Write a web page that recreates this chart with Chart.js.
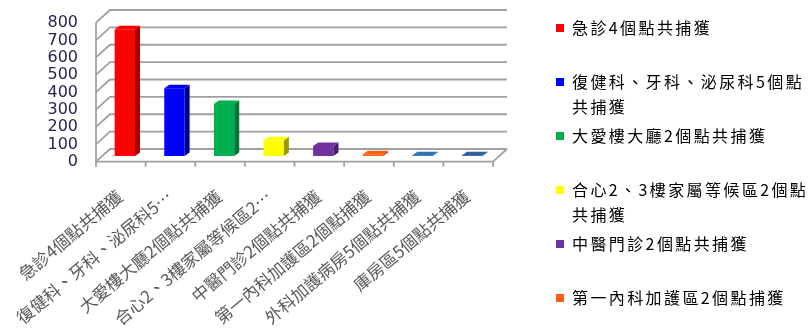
<!DOCTYPE html>
<html>
<head>
<meta charset="utf-8">
<script src="https://cdn.jsdelivr.net/npm/chart.js@4"></script>
<style>
  html, body { margin: 0; padding: 0; background: #fff; }
  #wrap { position: relative; width: 811px; height: 336px; }
  #legend { position: absolute; left: 0; top: 0; }
  .item { position: absolute; left: 556px; width: 250px; font-family: "Noto Sans CJK TC", sans-serif;
    font-size: 16px; letter-spacing: 2.4px; line-height: 25px; color: #000; }
  .item .box { position: absolute; left: 0; top: 9px; width: 8px; height: 8px; }
  .item .txt { margin-left: 16px; width: 238px; }
</style>
</head>
<body>
<div id="wrap">
  <canvas id="chart" width="811" height="336"></canvas>
  <div id="legend"></div>
</div>
<script>
const categories = [
	'急診4個點共捕獲',
	'復健科、牙科、泌尿科5個點共捕獲',
	'大愛樓大廳2個點共捕獲',
	'合心2、3樓家屬等候區2個點共捕獲',
	'中醫門診2個點共捕獲',
	'第一內科加護區2個點捕獲',
	'外科加護病房5個點共捕獲',
	'庫房區5個點共捕獲'
];
const tickLabels = [
	'急診4個點共捕獲',
	'復健科、牙科、泌尿科5…',
	'大愛樓大廳2個點共捕獲',
	'合心2、3樓家屬等候區2…',
	'中醫門診2個點共捕獲',
	'第一內科加護區2個點捕獲',
	'外科加護病房5個點共捕獲',
	'庫房區5個點共捕獲'
];
const values = [730, 390, 300, 90, 58, 10, 5, 5];
const colors = ['#ff0000', '#0000ff', '#00b050', '#ffff00', '#7030a0', '#ff6010', '#2e75b6', '#2f5f9f'];
const sideColors = ['#a80000', '#000090', '#007a35', '#9a9a00', '#4a1d70', '#b04000', '#1f4f80', '#1f3f70'];
const legendCount = 6;

// legend (only the first 6 fit in the picture)
let html = '';
for (let i = 0; i < legendCount; i++) {
	html += '<div class="item" style="top:' + (15 + 54 * i) + 'px"><div class="box" style="background:' + colors[i] + '"></div><div class="txt">' + categories[i] + '</div></div>';
}
document.getElementById('legend').innerHTML = html;

const FRONT = {dx: -4, dy: 5.7};
const BACK = {dx: 10, dy: -7};
const TOP = {dx: 5, dy: -3.5};

const frame3d = {
	id: 'frame3d',
	beforeDatasetsDraw(chart) {
		const ctx = chart.ctx;
		const y = chart.scales.y;
		const x = chart.scales.x;
		const a = chart.chartArea;
		ctx.save();
		ctx.strokeStyle = '#a0a0a0';
		ctx.lineWidth = 1.8;
		for (let v = 0; v <= 800; v += 100) {
			const py = y.getPixelForValue(v);
			ctx.beginPath();
			ctx.moveTo(a.left + FRONT.dx, py + FRONT.dy);
			ctx.lineTo(a.left + BACK.dx, py + BACK.dy);
			ctx.lineTo(a.right + BACK.dx, py + BACK.dy);
			ctx.stroke();
		}
		const p0 = y.getPixelForValue(0);
		const p8 = y.getPixelForValue(800);
		ctx.beginPath();
		ctx.moveTo(a.left + FRONT.dx, p8 + FRONT.dy);
		ctx.lineTo(a.left + FRONT.dx, p0 + FRONT.dy);
		ctx.lineTo(a.right + FRONT.dx, p0 + FRONT.dy);
		ctx.lineTo(a.right + BACK.dx, p0 + BACK.dy);
		ctx.stroke();
		for (let i = 0; i <= categories.length; i++) {
			const px = x.getPixelForValue(i - 0.5) + FRONT.dx;
			ctx.beginPath();
			ctx.moveTo(px, p0 + FRONT.dy);
			ctx.lineTo(px, p0 + FRONT.dy + 5);
			ctx.stroke();
		}
		ctx.restore();
	},
	afterDatasetsDraw(chart) {
		const ctx = chart.ctx;
		const meta = chart.getDatasetMeta(0);
		ctx.save();
		meta.data.forEach((bar, i) => {
			const l = bar.x - bar.width / 2, r = bar.x + bar.width / 2;
			ctx.fillStyle = sideColors[i];
			ctx.beginPath();
			ctx.moveTo(r, bar.y);
			ctx.lineTo(r + TOP.dx, bar.y + TOP.dy);
			ctx.lineTo(r + TOP.dx, bar.base + TOP.dy);
			ctx.lineTo(r, bar.base);
			ctx.closePath();
			ctx.fill();
			ctx.fillStyle = colors[i];
			ctx.beginPath();
			ctx.moveTo(l, bar.y);
			ctx.lineTo(r, bar.y);
			ctx.lineTo(r + TOP.dx, bar.y + TOP.dy);
			ctx.lineTo(l + TOP.dx, bar.y + TOP.dy);
			ctx.closePath();
			ctx.fill();
		});
		ctx.restore();
	}
};

new Chart(document.getElementById('chart'), {
	type: 'bar',
	data: {
		labels: tickLabels,
		datasets: [{
			data: values,
			backgroundColor: colors,
			barPercentage: 0.82,
			categoryPercentage: 0.5
		}]
	},
	options: {
		responsive: false,
		animation: false,
		layout: {padding: {top: 17, right: 314, left: 0, bottom: 0}},
		plugins: {legend: {display: false}, tooltip: {enabled: false}},
		scales: {
			x: {
				grid: {display: false},
				border: {display: false},
				afterFit: (s) => { s.height = 180; s.paddingLeft = 0; s.paddingRight = 0; },
				ticks: {
					autoSkip: false,
					minRotation: 40,
					maxRotation: 40,
					padding: 22,
					labelOffset: -5,
					color: '#5a5a5a',
					font: {family: '"Noto Sans CJK TC"', size: 17}
				}
			},
			y: {
				min: 0,
				max: 800,
				grid: {display: false},
				border: {display: false},
				afterFit: (s) => { s.width = 100; s.paddingTop = 0; s.paddingBottom = 0; },
				ticks: {
					stepSize: 100,
					autoSkip: false,
					padding: 14,
					labelOffset: 6,
					color: '#262650',
					font: {family: '"DejaVu Sans"', size: 16}
				}
			}
		}
	},
	plugins: [frame3d]
});
</script>
</body>
</html>
